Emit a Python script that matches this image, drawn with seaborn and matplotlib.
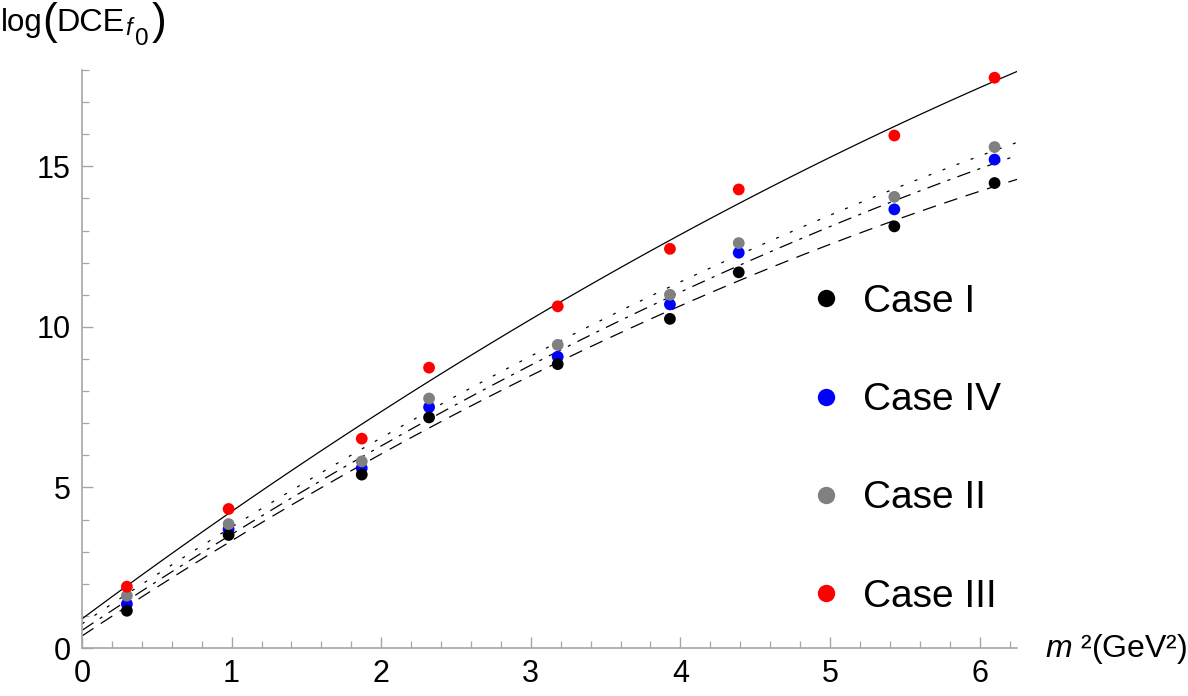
import numpy as np
import pandas as pd
import matplotlib
matplotlib.use("Agg")
import matplotlib.pyplot as plt
from matplotlib.lines import Line2D
from matplotlib.ticker import MultipleLocator
import seaborn as sns

# ---- data ----
m2 = [0.30, 0.98, 1.87, 2.32, 3.18, 3.93, 4.39, 5.43, 6.10]
case_I = [1.16, 3.52, 5.40, 7.18, 8.84, 10.25, 11.70, 13.13, 14.48]
case_IV = [1.37, 3.70, 5.60, 7.50, 9.07, 10.70, 12.31, 13.66, 15.21]
case_II = [1.63, 3.86, 5.81, 7.77, 9.44, 11.00, 12.61, 14.05, 15.60]
case_III = [1.91, 4.33, 6.52, 8.73, 10.64, 12.43, 14.28, 15.96, 17.76]

legend_order = ["Case I", "Case IV", "Case II", "Case III"]
x_ticks = [0, 1, 2, 3, 4, 5, 6]
y_ticks = [0, 5, 10, 15]

sns.set_theme(style="white")
plt.rcParams["font.family"] = ["Liberation Sans", "DejaVu Sans"]
plt.rcParams["text.color"] = "black"
plt.rcParams["mathtext.fontset"] = "custom"
plt.rcParams["mathtext.rm"] = "Liberation Sans"
plt.rcParams["mathtext.it"] = "Liberation Sans:italic"
plt.rcParams["mathtext.bf"] = "Liberation Sans:bold"
plt.rcParams["mathtext.sf"] = "Liberation Sans"

df = pd.DataFrame({"m2": m2, "Case I": case_I, "Case IV": case_IV,
                   "Case II": case_II, "Case III": case_III})

colors = {"Case I": "#000000", "Case IV": "#0000ff", "Case II": "#808080", "Case III": "#ff0000"}
styles = {"Case I": (0, (11, 7)),
          "Case IV": (0, (11, 6, 2.5, 6)),
          "Case II": (0, (2.4, 9.6)),
          "Case III": "solid"}

W, H = 1188, 696
fig = plt.figure(figsize=(W / 100, H / 100), dpi=100)
ax = fig.add_axes([82 / W, (H - 648) / H, (1017 - 82) / W, (648 - 70) / H])
ax.set_xlim(0, 6.25)
ax.set_ylim(0, 18)

# fitted curves (quadratic fits, drawn by seaborn)
for name in ["Case I", "Case IV", "Case II", "Case III"]:
    sns.regplot(data=df, x="m2", y=name, order=2, ci=None, scatter=False,
                truncate=False, ax=ax,
                line_kws=dict(color="black", lw=0.9, linestyle=styles[name]))

# points
for name in ["Case IV", "Case I", "Case II", "Case III"]:
    sns.scatterplot(data=df, x="m2", y=name, color=colors[name], s=72,
                    edgecolor="none", ax=ax, zorder=5, legend=False)

ax.set_xlim(0, 6.25)
ax.set_ylim(0, 18)
ax.set_xlabel("")
ax.set_ylabel("")

for s in ["top", "right"]:
    ax.spines[s].set_visible(False)
for s in ["left", "bottom"]:
    ax.spines[s].set_color("#a6a6a6")
    ax.spines[s].set_linewidth(1.2)

ax.set_xticks(x_ticks)
ax.set_yticks(y_ticks)
ax.xaxis.set_minor_locator(MultipleLocator(0.2))
ax.yaxis.set_minor_locator(MultipleLocator(1))
ax.tick_params(which="major", direction="in", length=8, width=1, color="#a6a6a6",
               labelsize=22, labelcolor="black", pad=8)
ax.tick_params(which="minor", direction="in", length=5, width=0.9, color="#a6a6a6")
ax.tick_params(axis="y", which="both", left=True)
ax.tick_params(axis="x", which="both", bottom=True)

# legend
handles = [Line2D([0], [0], marker="o", linestyle="none", color=colors[n],
                  markersize=12.5, markeredgewidth=0) for n in legend_order]
fig.legend(handles, legend_order, loc="upper left",
           bbox_to_anchor=(814 / W, 1 - 284 / H), frameon=False,
           fontsize=28, handlelength=0.6, handletextpad=0.66,
           labelspacing=1.6, borderpad=0, borderaxespad=0, labelcolor="black")

# y axis label: log(DCE_f0) with tall parentheses, Mathematica style
def ftxt(x, y, s, size, **kw):
    fig.text(x / W, 1 - y / H, s, fontsize=size, ha="left", va="baseline", **kw)

ftxt(1, 31, "log", 22.5)
ftxt(42, 34, "(", 32)
ftxt(56, 31, "DCE", 23.3)
ftxt(125, 35, "f", 17, style="italic")
ftxt(135, 45, "0", 17.5)
ftxt(152, 34, ")", 32)

# x axis label
fig.text(1045 / W, 1 - 657 / H, r"$m$ ²(GeV²)", fontsize=23,
         ha="left", va="baseline")

fig.savefig("out.png", dpi=100)
